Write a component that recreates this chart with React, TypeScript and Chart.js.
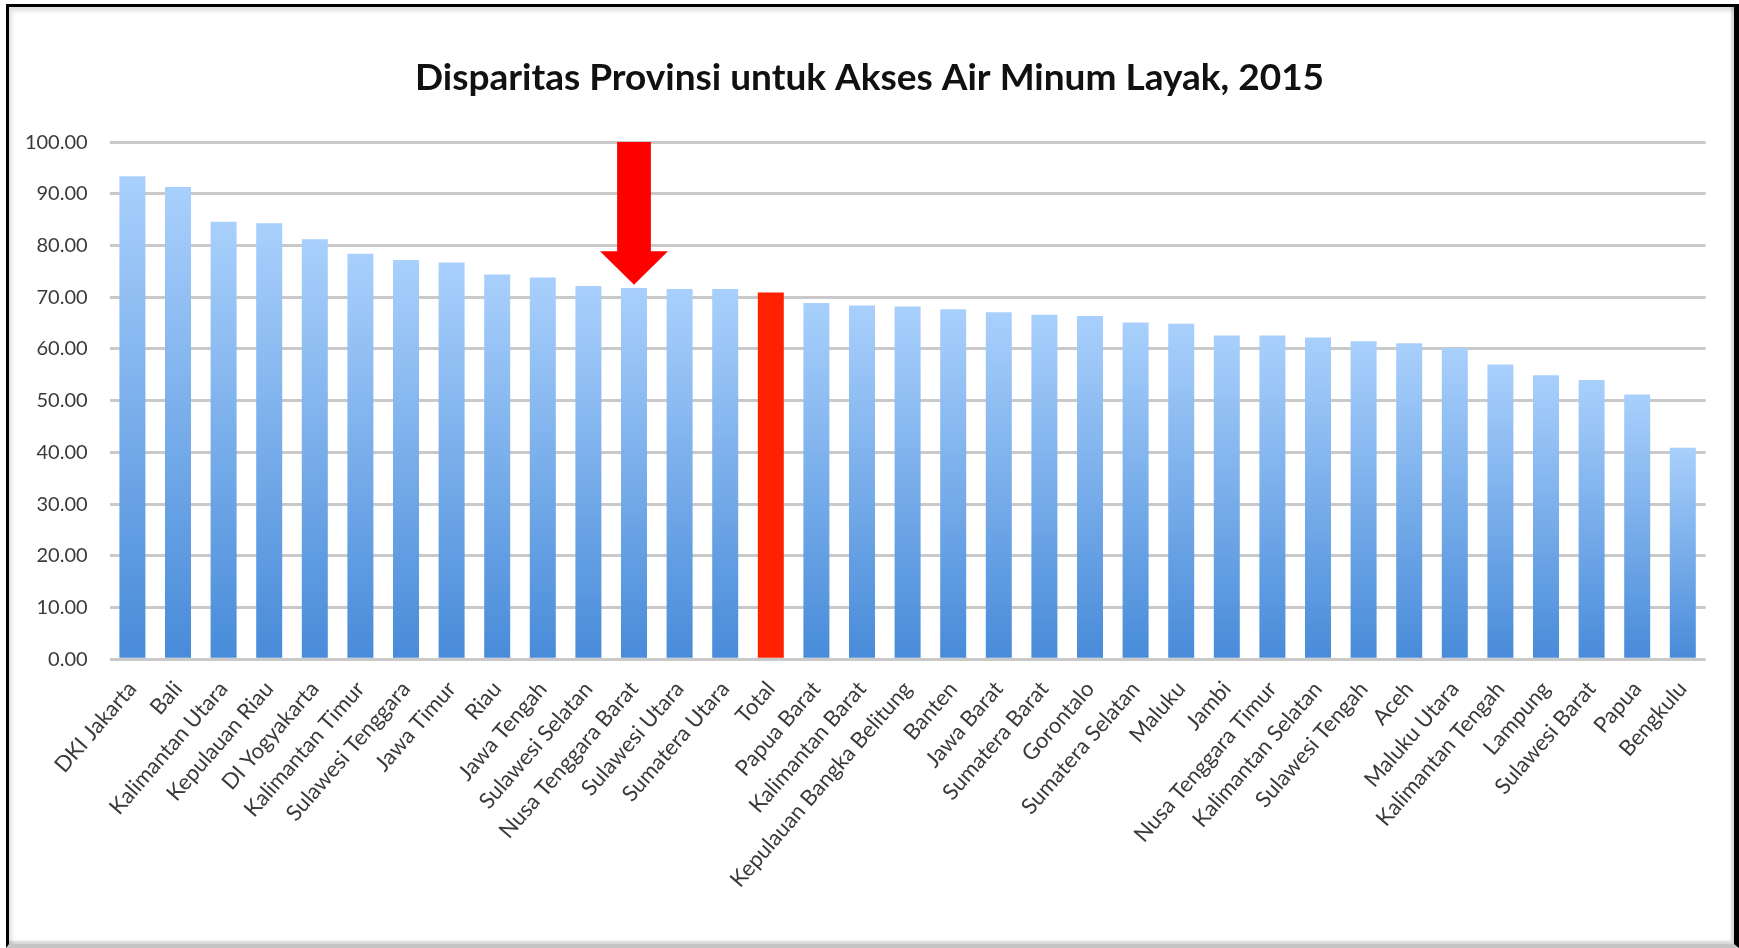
import React, { useEffect, useRef } from "react";
import { Chart, registerables } from "chart.js";

Chart.register(...registerables);

const TITLE = "Disparitas Provinsi untuk Akses Air Minum Layak, 2015";

const categories = [
  "DKI Jakarta", "Bali", "Kalimantan Utara", "Kepulauan Riau", "DI Yogyakarta",
  "Kalimantan Timur", "Sulawesi Tenggara", "Jawa Timur", "Riau", "Jawa Tengah",
  "Sulawesi Selatan", "Nusa Tenggara Barat", "Sulawesi Utara", "Sumatera Utara", "Total",
  "Papua Barat", "Kalimantan Barat", "Kepulauan Bangka Belitung", "Banten", "Jawa Barat",
  "Sumatera Barat", "Gorontalo", "Sumatera Selatan", "Maluku", "Jambi",
  "Nusa Tenggara Timur", "Kalimantan Selatan", "Sulawesi Tengah", "Aceh", "Maluku Utara",
  "Kalimantan Tengah", "Lampung", "Sulawesi Barat", "Papua", "Bengkulu",
];

const values = [
  93.4, 91.3, 84.6, 84.3, 81.2,
  78.4, 77.2, 76.7, 74.4, 73.8,
  72.2, 71.8, 71.6, 71.6, 70.9,
  68.9, 68.4, 68.2, 67.7, 67.1,
  66.6, 66.4, 65.1, 64.9, 62.6,
  62.6, 62.2, 61.5, 61.1, 60.2,
  57.0, 54.9, 54.0, 51.2, 40.9,
];

const highlightCategory = "Total";

const yTicks = [0, 10, 20, 30, 40, 50, 60, 70, 80, 90, 100];

// Arrow annotation (in data units)
const arrowCategory = "Nusa Tenggara Barat";
const arrowTop = 100;
const arrowHeadBase = 78.9;
const arrowTip = 72.4;

const W = 1739;
const H = 948;

export default function App() {
  const ref = useRef<HTMLCanvasElement | null>(null);

  useEffect(() => {
    const canvas = ref.current;
    if (!canvas) return;

    const arrowPlugin = {
      id: "arrowPlugin",
      afterDatasetsDraw(chart: any) {
        const x = chart.scales.x;
        const y = chart.scales.y;
        const idx = categories.indexOf(arrowCategory);
        const cx = x.getPixelForValue(idx);
        const cw = x.getPixelForValue(1) - x.getPixelForValue(0);
        const shaftHalf = cw * 0.37;
        const headHalf = cw * 0.745;
        const yTop = y.getPixelForValue(arrowTop);
        const yBase = y.getPixelForValue(arrowHeadBase);
        const yTip = y.getPixelForValue(arrowTip);
        const ctx = chart.ctx;
        ctx.save();
        ctx.fillStyle = "#ff0000";
        ctx.beginPath();
        ctx.moveTo(cx - shaftHalf, yTop);
        ctx.lineTo(cx + shaftHalf, yTop);
        ctx.lineTo(cx + shaftHalf, yBase);
        ctx.lineTo(cx + headHalf, yBase);
        ctx.lineTo(cx, yTip);
        ctx.lineTo(cx - headHalf, yBase);
        ctx.lineTo(cx - shaftHalf, yBase);
        ctx.closePath();
        ctx.fill();
        ctx.restore();
      },
    };

    const barColor = (c: any) => {
      const chart = c.chart;
      const label = categories[c.dataIndex];
      if (label === highlightCategory) return "#fe2200";
      const y = chart.scales && chart.scales.y;
      if (!y || !chart.chartArea || c.type !== "data") return "#6fa8ec";
      const top = y.getPixelForValue(values[c.dataIndex]);
      const bottom = y.getPixelForValue(0);
      if (!isFinite(top) || !isFinite(bottom) || top === bottom) return "#6fa8ec";
      const g = chart.ctx.createLinearGradient(0, top, 0, bottom);
      g.addColorStop(0, "#a9d0fc");
      g.addColorStop(1, "#488bd9");
      return g;
    };

    const chart = new Chart(canvas, {
      type: "bar",
      data: {
        labels: categories,
        datasets: [
          {
            data: values,
            backgroundColor: barColor,
            borderWidth: 0,
            barPercentage: 0.57,
            categoryPercentage: 1,
            yAxisID: "y",
          },
        ],
      },
      plugins: [arrowPlugin],
      options: {
        responsive: false,
        animation: false,
        layout: { padding: { left: 0, right: 0, top: 0, bottom: 0 } },
        plugins: {
          legend: { display: false },
          tooltip: { enabled: false },
          title: {
            display: true,
            text: TITLE,
            color: "#111111",
            font: { family: "Lato", size: 37, weight: "bold", lineHeight: 1.2 },
            padding: { top: 55.4, bottom: 42.3 },
          },
        },
        scales: {
          x: {
            grid: { display: false, drawTicks: false },
            border: { display: false },
            ticks: {
              autoSkip: false,
              minRotation: 49,
              maxRotation: 49,
              padding: 17,
              color: "#3a3a3a",
              font: { family: "Lato", size: 22 },
            },
            afterFit(scale: any) {
              scale.height = 288.7;
            },
          },
          y: {
            min: 0,
            max: 100,
            position: "left",
            grid: { color: "#c9c9c9", lineWidth: 3, drawTicks: false },
            border: { display: false },
            afterBuildTicks(scale: any) {
              scale.ticks = yTicks.map((v) => ({ value: v }));
            },
            ticks: {
              padding: 22,
              color: "#3a3a3a",
              font: { family: "Lato", size: 20 },
              callback: (v: any) => Number(v).toFixed(2),
            },
            afterFit(scale: any) {
              scale.width = 109.6;
            },
          },
          yRightSpace: {
            type: "linear",
            position: "right",
            min: 0,
            max: 100,
            display: true,
            grid: { display: false, drawTicks: false },
            border: { display: false },
            ticks: { display: false },
            afterFit(scale: any) {
              scale.width = 33.4;
            },
          },
        },
      },
    });

    return () => chart.destroy();
  }, []);

  return (
    <div style={{ position: "fixed", left: 0, top: 0, width: W, height: H, background: "#ffffff", overflow: "hidden" }}>
      <div
        style={{
          position: "absolute",
          left: 6,
          top: 4,
          width: W - 6,
          height: H - 4,
          boxSizing: "border-box",
          borderLeft: "3px solid #000",
          borderTop: "3px solid #000",
          borderRight: "5px solid #000",
          borderBottom: "4px solid #c4c4c4",
          boxShadow: "inset 3px 4px 4px rgba(0,0,0,0.12), inset -3px -3px 2px rgba(0,0,0,0.15)",
        }}
      />
      <canvas ref={ref} width={W} height={H} style={{ position: "absolute", left: 0, top: 0, width: W, height: H }} />
    </div>
  );
}
